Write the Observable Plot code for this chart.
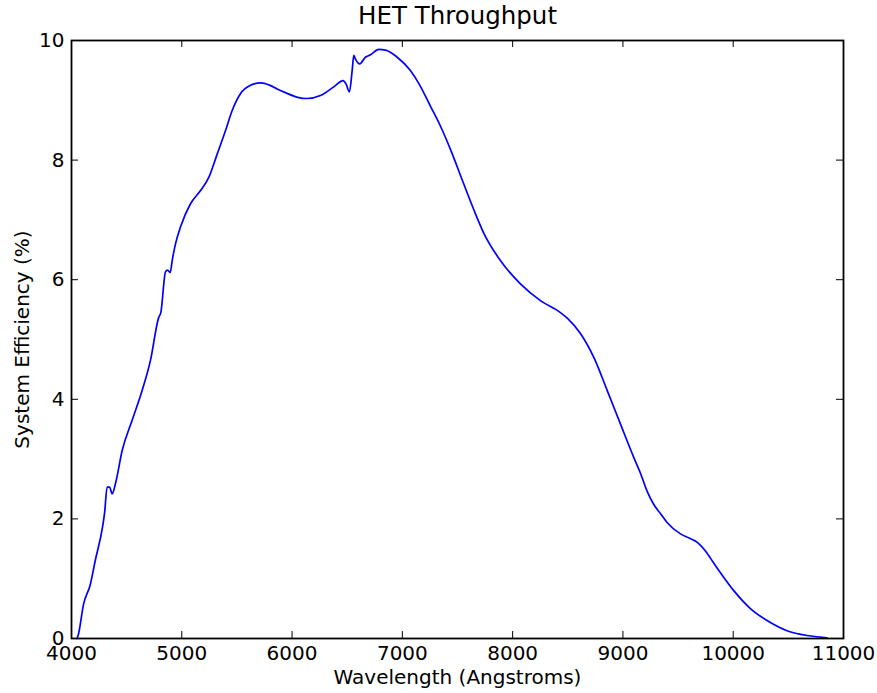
<!DOCTYPE html>
<html><head><meta charset="utf-8">
<script src="https://cdn.jsdelivr.net/npm/d3@7"></script>
<script src="https://cdn.jsdelivr.net/npm/@observablehq/plot@0.6"></script>
<style>body{margin:0;background:#fff}</style>
</head><body><div id="chart"></div>
<script>
const wavelength = [4050,4060,4110,4170,4215,4280,4300,4323,4345,4369,4400,4459,4550,4641,4716,4791,4810,4852,4870,4895,4913,4943,4988,5079,5170,5245,5321,5396,5457,5532,5623,5714,5800,5865,5950,6050,6137,6257,6375,6463,6490,6520,6545,6560,6575,6614,6665,6711,6786,6847,6953,7073,7150,7255,7345,7436,7557,7648,7738,7889,8071,8252,8433,8500,8615,8736,8857,8977,9098,9160,9220,9280,9340,9400,9522,9600,9680,9750,9820,9884,10005,10156,10307,10488,10670,10806,10850];
const efficiency = [0.0,0.05,0.58,0.9,1.3,1.85,2.1,2.53,2.53,2.42,2.6,3.14,3.65,4.15,4.65,5.37,5.45,6.13,6.16,6.12,6.32,6.6,6.88,7.27,7.49,7.71,8.1,8.49,8.83,9.11,9.25,9.29,9.25,9.19,9.12,9.05,9.03,9.08,9.22,9.33,9.27,9.14,9.5,9.75,9.69,9.61,9.72,9.76,9.85,9.84,9.72,9.5,9.28,8.9,8.57,8.18,7.6,7.17,6.78,6.32,5.93,5.65,5.45,5.35,5.1,4.7,4.15,3.59,3.03,2.76,2.46,2.24,2.09,1.94,1.75,1.68,1.6,1.46,1.27,1.1,0.8,0.5,0.3,0.13,0.05,0.02,0.01];
const xTicks = [4000,5000,6000,7000,8000,9000,10000,11000];
const yTicks = [0,2,4,6,8,10];
const title = "HET Throughput";
const xLabel = "Wavelength (Angstroms)";
const yLabel = "System Efficiency (%)";

const data = wavelength.map((w, i) => ({w, e: efficiency[i]}));
const W = 877, H = 693, mL = 71, mR = 34, mT = 40, mB = 55;
const innerW = W - mL - mR, innerH = H - mT - mB;
const tickLen = 7;

const chart = Plot.plot({
  width: W, height: H,
  marginLeft: mL, marginRight: mR, marginTop: mT, marginBottom: mB,
  style: {fontFamily: "DejaVu Sans", fontSize: "20px", background: "white", color: "black"},
  x: {domain: [4000, 11000]},
  y: {domain: [0, 10]},
  marks: [
    Plot.line(data, {x: "w", y: "e", stroke: "#0000ff", strokeWidth: 1.7, curve: "monotone-x"}),
    Plot.tickX(xTicks.slice(1, -1), {x: d => d, insetTop: innerH - tickLen, stroke: "black"}),
    Plot.tickX(xTicks.slice(1, -1), {x: d => d, insetBottom: innerH - tickLen, stroke: "black"}),
    Plot.tickY(yTicks.slice(1, -1), {y: d => d, insetRight: innerW - tickLen, stroke: "black"}),
    Plot.tickY(yTicks.slice(1, -1), {y: d => d, insetLeft: innerW - tickLen, stroke: "black"}),
    Plot.frame({stroke: "black", strokeWidth: 1.8}),
    Plot.axisX({ticks: xTicks, tickSize: 0, tickPadding: 7, fontSize: 20, label: null, tickFormat: d => String(d)}),
    Plot.axisY({ticks: yTicks, tickSize: 0, tickPadding: 7, fontSize: 20, label: null, tickFormat: d => String(d)}),
    Plot.text([title], {text: d => d, frameAnchor: "top", dy: -17, lineAnchor: "bottom", fontSize: 24.5}),
    Plot.text([xLabel], {text: d => d, frameAnchor: "bottom", dy: 45, lineAnchor: "bottom", textAnchor: "middle", fontSize: 20}),
    Plot.text([yLabel], {text: d => d, frameAnchor: "left", dx: -43, rotate: -90, lineAnchor: "bottom", textAnchor: "middle", fontSize: 20})
  ]
});
document.getElementById("chart").appendChild(chart);
</script>
</body></html>
